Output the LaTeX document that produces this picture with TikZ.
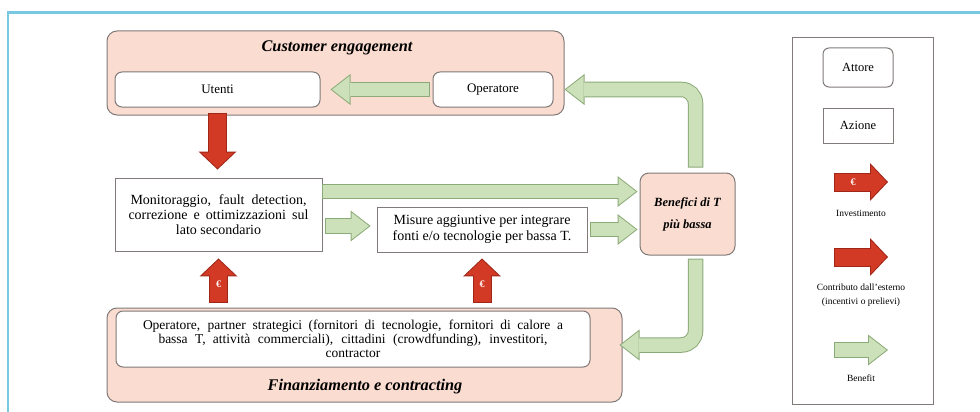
\documentclass[tikz,border=0pt]{standalone}
\usepackage{fontspec}
\setmainfont{Liberation Serif}
\usetikzlibrary{arrows.meta,calc,positioning}

\definecolor{pinkfill}{RGB}{250,220,208}
\definecolor{boxgray}{RGB}{128,122,120}
\definecolor{gfill}{RGB}{204,225,186}
\definecolor{gline}{RGB}{140,170,120}
\definecolor{rfill}{RGB}{210,58,38}
\definecolor{rline}{RGB}{160,38,24}
\definecolor{framecol}{RGB}{120,200,225}

\tikzset{
  group/.style={draw=boxgray, fill=pinkfill, rounded corners=10pt, line width=1pt},
  actor/.style={draw=boxgray, fill=white, rounded corners=7pt, line width=1pt,
    align=center, font=\fontsize{13}{14.5}\selectfont},
  action/.style={draw=boxgray, fill=white, line width=0.9pt, align=center,
    font=\fontsize{14}{15}\selectfont},
  grouptitle/.style={font=\fontsize{16.3}{18}\selectfont\bfseries\itshape},
  euro/.style={text=white, inner sep=0pt, font=\fontsize{10}{10}\selectfont\bfseries},
  legtext/.style={align=center, font=\fontsize{9.5}{14}\selectfont},
  % block arrows: #1 = gap at the tail, #2 = gap at the tip
  benefit/.style 2 args={line width=13.5pt, draw=gfill,
    shorten <={#1+1pt}, shorten >={#2+1.6pt},
    -{Triangle[length=17.4pt,width=26.9pt,line width=0pt]},
    preaction={draw=gline, line width=15.5pt, shorten <=#1, shorten >=#2,
      -{Triangle[length=20pt,width=31pt,line width=0pt]}}},
  invest/.style 2 args={line width=17pt, draw=rfill,
    shorten <={#1+1pt}, shorten >={#2+1.4pt},
    -{Triangle[length=15.6pt,width=33pt,line width=0pt]},
    preaction={draw=rline, line width=19pt, shorten <=#1, shorten >=#2,
      -{Triangle[length=18pt,width=38pt,line width=0pt]}}}
}

\begin{document}
\begin{tikzpicture}[x=1pt,y=-1pt]
  \useasboundingbox (0,0) rectangle (980,412);
  \draw[framecol, line width=2.5pt] (8,412) -- (8,12.5) -- (980,12.5);

  % customer engagement
  \node[group, minimum width=457pt, minimum height=84pt] (ce) at (335.5,73) {};
  \node[grouptitle] (cetitle) at (337,48) {Customer engagement};
  \node[actor, minimum width=205pt, minimum height=35pt] (utenti) at (217.5,89.5) {Utenti};
  \node[actor, minimum width=120pt, minimum height=35pt] (oper) at (493,89.5) {Operatore};

  % azioni
  \node[action, minimum width=207pt, minimum height=73pt] (monit) at (218.5,214.5)
    {\makebox[176pt][s]{Monitoraggio, fault detection,}\\
     \makebox[180pt][s]{correzione e ottimizzazioni sul}\\ lato secondario};
  \node[action, minimum width=210pt, minimum height=45pt, font=\fontsize{14}{16}\selectfont] (misure) at (482,229.5)
    {Misure aggiuntive per integrare\\ fonti e/o tecnologie per bassa T.};
  \node[group, rounded corners=9pt, minimum width=95pt, minimum height=82pt, align=center,
    font=\fontsize{12.5}{22}\selectfont\bfseries\itshape] (benef) at (687.5,214)
    {Benefici di T\\ più bassa};

  % finanziamento
  \node[group, minimum width=515pt, minimum height=94pt] (fin) at (364.5,355) {};
  \node[actor, minimum width=474pt, minimum height=56pt,
    font=\fontsize{13.5}{14}\selectfont] (stake) at (353,339)
    {\makebox[420pt][s]{Operatore, partner strategici (fornitori di tecnologie, fornitori di calore a}\\
     \makebox[389pt][s]{bassa T, attività commerciali), cittadini (crowdfunding), investitori,}\\
     contractor};
  \node[grouptitle] (fintitle) at (365,387) {Finanziamento e contracting};

  % legenda
  \node[draw=boxgray, line width=0.9pt, minimum width=141pt, minimum height=367pt] (leg) at (862.5,220.5) {};
  \node[actor, rounded corners=6pt, minimum width=70pt, minimum height=39pt,
    font=\fontsize{12.5}{14}\selectfont] (lattore) at (858,67.5) {Attore};
  \node[action, minimum width=70pt, minimum height=35pt,
    font=\fontsize{12.5}{14}\selectfont] (lazione) at (858,125.5) {Azione};
  \coordinate (li1) at (834,182);
  \coordinate (li2) at (888,182);
  \coordinate (lc1) at (834,257);
  \coordinate (lc2) at (888,257);
  \coordinate (lb1) at (834,350);
  \coordinate (lb2) at (888,350);
  \node[legtext] (linv) at (861,213) {Investimento};
  \node[legtext] (lcon) at (861,295) {Contributo dall'esterno\\(incentivi o prelievi)};
  \node[legtext] (lben) at (861,378) {Benefit};

  % investimenti
  \draw[invest={5pt}{8pt}] (utenti.south) -- (utenti.south |- monit.north);
  \draw[invest={8pt}{7pt}] (stake.north -| monit.south) -- (monit.south);
  \draw[invest={8pt}{6pt}] (stake.north -| misure.south) -- (misure.south);
  \node[euro] at (218.5,284) {€};
  \node[euro] at (482,284) {€};

  % benefici
  \coordinate (m1) at ([yshift=-14pt]monit.north east);
  \coordinate (m2) at ([yshift=-11.5pt]monit.east);
  \draw[benefit={3pt}{10pt}] (oper.west) -- (utenti.east);
  \draw[benefit={0pt}{2pt}] (m1) -- (m1 -| benef.west);
  \draw[benefit={3pt}{6pt}] (m2) -- (m2 -| misure.west);
  \draw[benefit={3pt}{2pt}] (misure.east) -- (misure.east -| benef.west);
  \draw[benefit={5pt}{0pt}, rounded corners=14pt] ([xshift=8pt]benef.north) |- (oper.east -| ce.east);
  \draw[benefit={3pt}{-3pt}, rounded corners=14pt] ([xshift=8pt]benef.south) |- ([yshift=10pt]fin.east);

  % legenda frecce
  \draw[invest={0pt}{0pt}] (li1) -- (li2);
  \node[euro] at (853,182) {€};
  \draw[invest={0pt}{0pt}] (lc1) -- (lc2);
  \draw[benefit={0pt}{0pt}] (lb1) -- (lb2);
\end{tikzpicture}
\end{document}
